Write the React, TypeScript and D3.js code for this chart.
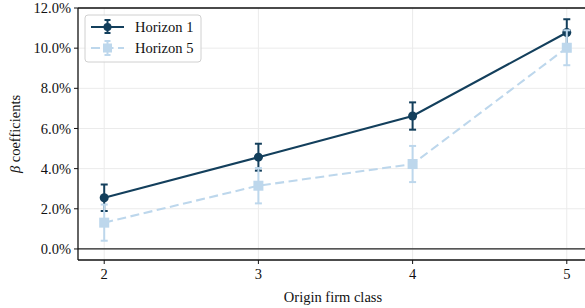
import React from "react";
import * as d3 from "d3";

const width = 585;
const height = 308;
const margin = { left: 78, top: 8, right: 0, bottom: 48 };

const classes = [2, 3, 4, 5];
const yTicks = [0, 2, 4, 6, 8, 10, 12];

// horizon 1
const h1Values = [2.55, 4.57, 6.62, 10.78];
const h1Err = [0.66, 0.67, 0.68, 0.66];
// horizon 5
const h5Values = [1.31, 3.15, 4.23, 10.02];
const h5Err = [0.9, 0.88, 0.9, 0.87];

const dark = "#133f5c";
const light = "#bdd7ec";
const font = "Liberation Serif, Times New Roman, DejaVu Serif, serif";
const fs = 14.5;
const dash = "9,4.5";

const x = d3.scaleLinear().domain([1.83, 5.17]).range([margin.left, 593]);
const y = d3.scaleLinear().domain([-0.55, 12]).range([height - margin.bottom, margin.top]);

const line = d3
  .line<number>()
  .x((_, i) => x(classes[i]))
  .y((d) => y(d));

const Series = ({ values, err, color, dashed, square }) => (
  <g>
    <path
      d={line(values) ?? ""}
      fill="none"
      stroke={color}
      strokeWidth={2.1}
      strokeDasharray={dashed ? dash : undefined}
    />
    {values.map((v, i) => {
      const cx = x(classes[i]);
      const top = y(v + err[i]);
      const bot = y(v - err[i]);
      return (
        <g key={i}>
          <line x1={cx} x2={cx} y1={top} y2={bot} stroke={color} strokeWidth={2} />
          <line x1={cx - 3.5} x2={cx + 3.5} y1={top} y2={top} stroke={color} strokeWidth={2} />
          <line x1={cx - 3.5} x2={cx + 3.5} y1={bot} y2={bot} stroke={color} strokeWidth={2} />
          {square ? (
            <rect x={cx - 5} y={y(v) - 5} width={10} height={10} fill={color} />
          ) : (
            <circle cx={cx} cy={y(v)} r={4.5} fill={color} />
          )}
        </g>
      );
    })}
  </g>
);

const txt = { fontFamily: font, fontSize: fs, fill: "#111" };

export default function App() {
  const plotBottom = height - margin.bottom;
  return (
    <svg width={width} height={height} style={{ position: "absolute", left: 0, top: 0 }}>
      <rect width={width} height={height} fill="white" />
      {/* grid */}
      {yTicks.map((t) => (
        <line key={t} x1={margin.left} x2={width} y1={y(t)} y2={y(t)} stroke="#ebebeb" strokeWidth={1} />
      ))}
      {classes.map((c) => (
        <line key={c} x1={x(c)} x2={x(c)} y1={margin.top} y2={plotBottom} stroke="#ebebeb" strokeWidth={1} />
      ))}
      {/* zero line */}
      <line x1={margin.left} x2={width} y1={y(0)} y2={y(0)} stroke="#222" strokeWidth={1.3} />
      {/* spines */}
      <line x1={margin.left} x2={width} y1={margin.top} y2={margin.top} stroke="#111" strokeWidth={1.3} />
      <line x1={margin.left} x2={width} y1={plotBottom} y2={plotBottom} stroke="#111" strokeWidth={1.3} />
      <line x1={margin.left} x2={margin.left} y1={margin.top} y2={plotBottom} stroke="#111" strokeWidth={1.3} />

      <Series values={h1Values} err={h1Err} color={dark} dashed={false} square={false} />
      <Series values={h5Values} err={h5Err} color={light} dashed={true} square={true} />

      {/* y ticks */}
      {yTicks.map((t) => (
        <g key={t}>
          <line x1={margin.left - 4} x2={margin.left} y1={y(t)} y2={y(t)} stroke="#111" />
          <text x={margin.left - 7} y={y(t)} dy="0.35em" textAnchor="end" style={txt}>
            {t.toFixed(1) + "%"}
          </text>
        </g>
      ))}
      {/* x ticks */}
      {classes.map((c) => (
        <g key={c}>
          <line x1={x(c)} x2={x(c)} y1={plotBottom} y2={plotBottom + 4} stroke="#111" />
          <text x={x(c)} y={plotBottom + 19} textAnchor="middle" style={txt}>
            {c}
          </text>
        </g>
      ))}
      <text x={333} y={302} textAnchor="middle" style={txt}>
        Origin firm class
      </text>
      <text transform={`translate(20,${(margin.top + plotBottom) / 2}) rotate(-90)`} textAnchor="middle" style={txt}>
        <tspan fontStyle="italic">β</tspan> coefficients
      </text>

      {/* legend */}
      <g>
        <rect x={85} y={15} width={116} height={47} rx={3} fill="white" fillOpacity={0.85} stroke="#d0d0d0" />
        <line x1={91} x2={124} y1={27} y2={27} stroke={dark} strokeWidth={2} />
        <line x1={107.5} x2={107.5} y1={20} y2={33} stroke={dark} strokeWidth={2} />
        <line x1={104.5} x2={110.5} y1={20} y2={20} stroke={dark} strokeWidth={2} />
        <line x1={104.5} x2={110.5} y1={33} y2={33} stroke={dark} strokeWidth={2} />
        <circle cx={107.5} cy={27} r={4} fill={dark} />
        <text x={135} y={27} dy="0.35em" style={txt}>Horizon 1</text>

        <line x1={91} x2={124} y1={48} y2={48} stroke={light} strokeWidth={2} strokeDasharray={dash} />
        <line x1={107.5} x2={107.5} y1={41} y2={55} stroke={light} strokeWidth={2} />
        <line x1={104.5} x2={110.5} y1={41} y2={41} stroke={light} strokeWidth={2} />
        <line x1={104.5} x2={110.5} y1={55} y2={55} stroke={light} strokeWidth={2} />
        <rect x={103} y={43.5} width={9} height={9} fill={light} />
        <text x={135} y={48} dy="0.35em" style={txt}>Horizon 5</text>
      </g>
    </svg>
  );
}
